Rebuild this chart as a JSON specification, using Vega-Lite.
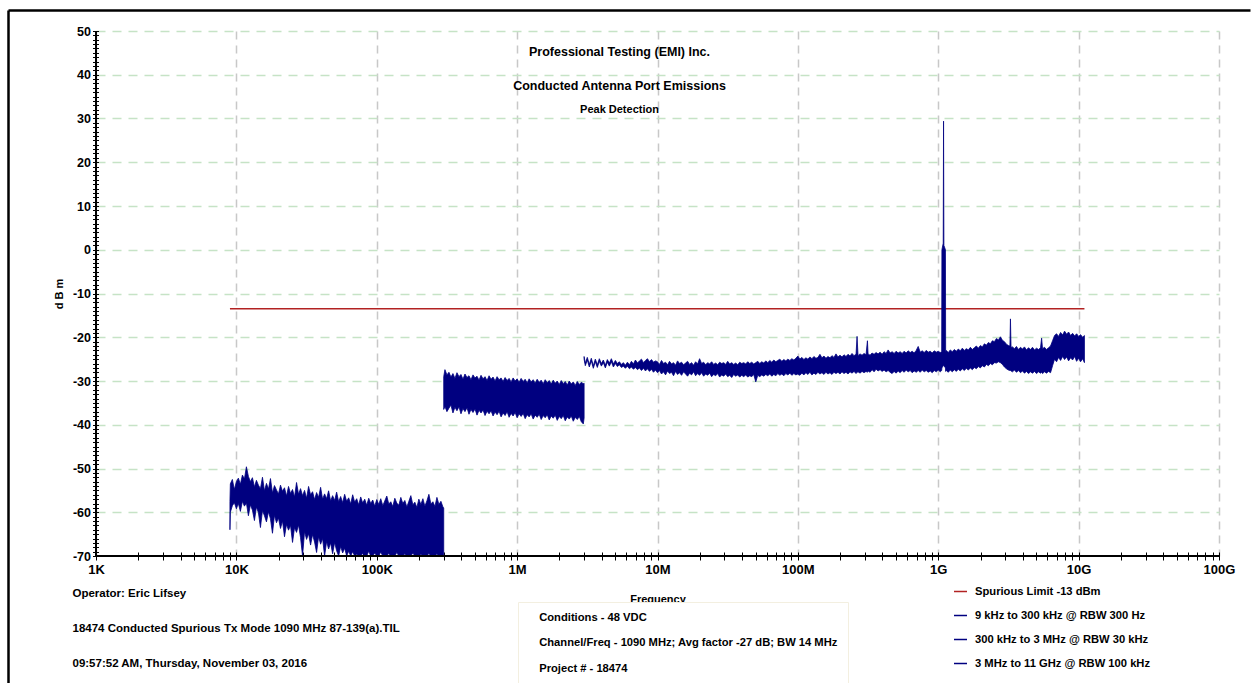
{
  "$schema": "https://vega.github.io/schema/vega-lite/v6.json",
  "width": 1123,
  "height": 525,
  "autosize": {"type": "none"},
  "padding": {"left": 96, "top": 31, "right": 36, "bottom": 127},
  "background": "white",
  "config": {
    "view": {"stroke": null},
    "font": "Liberation Sans, Arial, sans-serif"
  },
  "title": {
    "text": ["Professional Testing (EMI) Inc.", "Conducted Antenna Port Emissions"],
    "subtitle": "Peak Detection",
    "anchor": "middle",
    "frame": "group",
    "orient": "top",
    "offset": -105,
    "dx": -38,
    "fontSize": 12.5,
    "fontWeight": "bold",
    "lineHeight": 34,
    "color": "black",
    "subtitleFontSize": 11,
    "subtitleFontWeight": "bold",
    "subtitleColor": "black",
    "subtitlePadding": 12
  },
  "datasets": {
    "lim": [{"f": 9000, "v": -13.5}, {"f": 1.1e10, "v": -13.5}],
    "s1": [
      {"f":9000,"lo":-64,"hi":-57.5},{"f":9060,"lo":-60,"hi":-53.5},{"f":9363,"lo":-58.5,"hi":-52.5},{"f":9676,"lo":-57.8,"hi":-54.8},
      {"f":1e4,"lo":-59.2,"hi":-53},{"f":1.033e4,"lo":-58,"hi":-52.2},{"f":1.068e4,"lo":-59.8,"hi":-53.6},{"f":1.104e4,"lo":-57.5,"hi":-51.5},
      {"f":1.141e4,"lo":-58.6,"hi":-52.4},{"f":1.179e4,"lo":-57.9,"hi":-49.6},{"f":1.218e4,"lo":-60.8,"hi":-51.8},{"f":1.259e4,"lo":-58.3,"hi":-53},
      {"f":1.301e4,"lo":-59.5,"hi":-52.1},{"f":1.345e4,"lo":-61.9,"hi":-54.2},{"f":1.389e4,"lo":-58.8,"hi":-52.7},{"f":1.436e4,"lo":-60.1,"hi":-53.8},
      {"f":1.484e4,"lo":-63.5,"hi":-54.6},{"f":1.534e4,"lo":-59.6,"hi":-52},{"f":1.585e4,"lo":-60.8,"hi":-55.1},{"f":1.638e4,"lo":-62.2,"hi":-53.4},
      {"f":1.693e4,"lo":-59.9,"hi":-54.7},{"f":1.749e4,"lo":-61.5,"hi":-52.3},{"f":1.808e4,"lo":-64.8,"hi":-55.6},{"f":1.868e4,"lo":-60.7,"hi":-53.9},
      {"f":1.931e4,"lo":-62.4,"hi":-54.9},{"f":1.995e4,"lo":-61.3,"hi":-55.8},{"f":2.062e4,"lo":-63.7,"hi":-53.8},{"f":2.131e4,"lo":-62,"hi":-55.2},
      {"f":2.202e4,"lo":-65.6,"hi":-54.4},{"f":2.276e4,"lo":-62.8,"hi":-56.3},{"f":2.352e4,"lo":-64.1,"hi":-54.1},{"f":2.43e4,"lo":-63,"hi":-55.7},
      {"f":2.512e4,"lo":-66.9,"hi":-54.8},{"f":2.596e4,"lo":-63.5,"hi":-56.5},{"f":2.683e4,"lo":-64.6,"hi":-53.2},{"f":2.772e4,"lo":-62.9,"hi":-55.9},
      {"f":2.865e4,"lo":-65.8,"hi":-54.6},{"f":2.961e4,"lo":-70,"hi":-56.2},{"f":3.06e4,"lo":-64.4,"hi":-55},{"f":3.162e4,"lo":-66.2,"hi":-56.8},
      {"f":3.268e4,"lo":-64.9,"hi":-54.1},{"f":3.377e4,"lo":-67.5,"hi":-56},{"f":3.49e4,"lo":-65.1,"hi":-55.3},{"f":3.606e4,"lo":-66.8,"hi":-57.1},
      {"f":3.727e4,"lo":-69.2,"hi":-55.5},{"f":3.852e4,"lo":-65.6,"hi":-56.6},{"f":3.981e4,"lo":-67.3,"hi":-54.3},{"f":4.113e4,"lo":-66,"hi":-57},
      {"f":4.251e4,"lo":-70,"hi":-55.8},{"f":4.393e4,"lo":-66.7,"hi":-56.9},{"f":4.54e4,"lo":-68.4,"hi":-55.1},{"f":4.692e4,"lo":-67,"hi":-57.4},
      {"f":4.849e4,"lo":-69.5,"hi":-56.2},{"f":5.012e4,"lo":-66.9,"hi":-57.3},{"f":5.179e4,"lo":-68.8,"hi":-55.4},{"f":5.352e4,"lo":-70,"hi":-57.6},
      {"f":5.531e4,"lo":-67.8,"hi":-56.4},{"f":5.716e4,"lo":-69.3,"hi":-57.8},{"f":5.907e4,"lo":-68.2,"hi":-55.9},{"f":6.105e4,"lo":-70,"hi":-57.5},
      {"f":6.31e4,"lo":-68.9,"hi":-56.7},{"f":6.52e4,"lo":-70,"hi":-58.1},{"f":6.738e4,"lo":-69,"hi":-56},{"f":6.964e4,"lo":-70,"hi":-57.7},
      {"f":7.197e4,"lo":-69.6,"hi":-56.9},{"f":7.438e4,"lo":-70,"hi":-58.3},{"f":7.686e4,"lo":-70,"hi":-56.5},{"f":7.943e4,"lo":-69.4,"hi":-57.9},
      {"f":8.209e4,"lo":-70,"hi":-57},{"f":8.483e4,"lo":-70,"hi":-58.4},{"f":8.767e4,"lo":-68.9,"hi":-56.8},{"f":9.06e4,"lo":-70,"hi":-58},
      {"f":9.363e4,"lo":-70,"hi":-57.2},{"f":9.676e4,"lo":-69.3,"hi":-58.6},{"f":1e5,"lo":-70,"hi":-57.1},{"f":1.033e5,"lo":-70,"hi":-58.2},
      {"f":1.068e5,"lo":-69.1,"hi":-56.9},{"f":1.104e5,"lo":-70,"hi":-58.5},{"f":1.141e5,"lo":-70,"hi":-57.4},{"f":1.179e5,"lo":-70,"hi":-56.3},
      {"f":1.218e5,"lo":-69.4,"hi":-58.1},{"f":1.259e5,"lo":-70,"hi":-57.6},{"f":1.301e5,"lo":-70,"hi":-58.7},{"f":1.345e5,"lo":-70,"hi":-56.8},
      {"f":1.389e5,"lo":-69.2,"hi":-57.9},{"f":1.436e5,"lo":-70,"hi":-58.4},{"f":1.484e5,"lo":-70,"hi":-56.6},{"f":1.534e5,"lo":-70,"hi":-58},
      {"f":1.585e5,"lo":-69.5,"hi":-57.3},{"f":1.638e5,"lo":-70,"hi":-58.8},{"f":1.693e5,"lo":-70,"hi":-57.5},{"f":1.749e5,"lo":-70,"hi":-56.2},
      {"f":1.808e5,"lo":-69.3,"hi":-58.3},{"f":1.868e5,"lo":-70,"hi":-57.7},{"f":1.931e5,"lo":-70,"hi":-58.9},{"f":1.995e5,"lo":-70,"hi":-57},
      {"f":2.062e5,"lo":-69.6,"hi":-58.2},{"f":2.131e5,"lo":-70,"hi":-56.9},{"f":2.202e5,"lo":-70,"hi":-58.6},{"f":2.276e5,"lo":-70,"hi":-57.4},
      {"f":2.352e5,"lo":-69.4,"hi":-55.9},{"f":2.43e5,"lo":-70,"hi":-58.1},{"f":2.512e5,"lo":-70,"hi":-57.6},{"f":2.596e5,"lo":-70,"hi":-58.7},
      {"f":2.683e5,"lo":-69.5,"hi":-56.6},{"f":2.772e5,"lo":-70,"hi":-58.2},{"f":2.865e5,"lo":-70,"hi":-57.5},{"f":2.961e5,"lo":-70,"hi":-58.8},
      {"f":3e5,"lo":-70,"hi":-59}
    ],
    "s2": [
      {"f":3e5,"lo":-36.5,"hi":-29},{"f":3.06e5,"lo":-35.8,"hi":-27.4},{"f":3.162e5,"lo":-37,"hi":-28.6},{"f":3.268e5,"lo":-36.2,"hi":-28},
      {"f":3.377e5,"lo":-35.5,"hi":-29.1},{"f":3.49e5,"lo":-37.3,"hi":-28.3},{"f":3.606e5,"lo":-36,"hi":-29.4},{"f":3.727e5,"lo":-36.8,"hi":-28.1},
      {"f":3.852e5,"lo":-35.9,"hi":-29},{"f":3.981e5,"lo":-37.5,"hi":-28.5},{"f":4.113e5,"lo":-36.3,"hi":-29.6},{"f":4.251e5,"lo":-37,"hi":-28.4},
      {"f":4.393e5,"lo":-36.1,"hi":-29.2},{"f":4.54e5,"lo":-37.6,"hi":-28.8},{"f":4.692e5,"lo":-36.5,"hi":-29.7},{"f":4.849e5,"lo":-37.2,"hi":-28.6},
      {"f":5.012e5,"lo":-36.4,"hi":-29.3},{"f":5.179e5,"lo":-37.8,"hi":-28.9},{"f":5.352e5,"lo":-36.7,"hi":-29.8},{"f":5.531e5,"lo":-37.3,"hi":-28.7},
      {"f":5.716e5,"lo":-36.6,"hi":-29.5},{"f":5.907e5,"lo":-37.9,"hi":-29},{"f":6.105e5,"lo":-36.9,"hi":-29.9},{"f":6.31e5,"lo":-37.5,"hi":-28.8},
      {"f":6.52e5,"lo":-36.8,"hi":-29.6},{"f":6.738e5,"lo":-38,"hi":-29.1},{"f":6.964e5,"lo":-37.1,"hi":-30},{"f":7.197e5,"lo":-37.7,"hi":-29},
      {"f":7.438e5,"lo":-36.9,"hi":-29.7},{"f":7.686e5,"lo":-38.2,"hi":-29.3},{"f":7.943e5,"lo":-37.3,"hi":-30.1},{"f":8.209e5,"lo":-37.9,"hi":-29.2},
      {"f":8.483e5,"lo":-37,"hi":-29.9},{"f":8.767e5,"lo":-38.3,"hi":-29.4},{"f":9.06e5,"lo":-37.4,"hi":-30.2},{"f":9.363e5,"lo":-38,"hi":-29.3},
      {"f":9.676e5,"lo":-37.2,"hi":-30},{"f":1e6,"lo":-38.4,"hi":-29.5},{"f":1.033e6,"lo":-37.5,"hi":-30.3},{"f":1.068e6,"lo":-38.1,"hi":-29.4},
      {"f":1.104e6,"lo":-37.4,"hi":-30.1},{"f":1.141e6,"lo":-38.6,"hi":-29.6},{"f":1.179e6,"lo":-37.7,"hi":-30.4},{"f":1.218e6,"lo":-38.2,"hi":-29.5},
      {"f":1.259e6,"lo":-37.5,"hi":-30.2},{"f":1.301e6,"lo":-38.7,"hi":-29.7},{"f":1.345e6,"lo":-37.8,"hi":-30.5},{"f":1.389e6,"lo":-38.3,"hi":-29.6},
      {"f":1.436e6,"lo":-37.6,"hi":-30.3},{"f":1.484e6,"lo":-38.8,"hi":-29.8},{"f":1.534e6,"lo":-37.9,"hi":-30.6},{"f":1.585e6,"lo":-38.4,"hi":-29.7},
      {"f":1.638e6,"lo":-37.7,"hi":-30.4},{"f":1.693e6,"lo":-38.9,"hi":-29.9},{"f":1.749e6,"lo":-38,"hi":-30.7},{"f":1.808e6,"lo":-38.5,"hi":-29.8},
      {"f":1.868e6,"lo":-37.8,"hi":-30.5},{"f":1.931e6,"lo":-39,"hi":-30},{"f":1.995e6,"lo":-38.1,"hi":-30.8},{"f":2.062e6,"lo":-38.6,"hi":-29.9},
      {"f":2.131e6,"lo":-37.9,"hi":-30.6},{"f":2.202e6,"lo":-39.1,"hi":-30.1},{"f":2.276e6,"lo":-38.2,"hi":-30.9},{"f":2.352e6,"lo":-38.7,"hi":-30},
      {"f":2.43e6,"lo":-38,"hi":-30.7},{"f":2.512e6,"lo":-39.2,"hi":-30.2},{"f":2.596e6,"lo":-38.3,"hi":-31},{"f":2.683e6,"lo":-38.8,"hi":-30.1},
      {"f":2.772e6,"lo":-38.1,"hi":-30.8},{"f":2.865e6,"lo":-39.3,"hi":-30.3},{"f":2.961e6,"lo":-39.8,"hi":-30.6},{"f":3e6,"lo":-38.5,"hi":-30.5}
    ],
    "s3": [
      {"f":3e6,"lo":-25,"hi":-24.4},{"f":3.06e6,"lo":-26.5,"hi":-25.9},{"f":3.162e6,"lo":-25.2,"hi":-24.6},{"f":3.268e6,"lo":-26.8,"hi":-26.2},
      {"f":3.377e6,"lo":-25.4,"hi":-24.8},{"f":3.49e6,"lo":-27.1,"hi":-26.5},{"f":3.606e6,"lo":-25.6,"hi":-25},{"f":3.727e6,"lo":-26.9,"hi":-26.3},
      {"f":3.852e6,"lo":-25.5,"hi":-24.9},{"f":3.981e6,"lo":-26.6,"hi":-26},{"f":4.113e6,"lo":-25.8,"hi":-25.2},{"f":4.251e6,"lo":-27,"hi":-26.4},
      {"f":4.393e6,"lo":-25.7,"hi":-25.1},{"f":4.54e6,"lo":-26.6,"hi":-25.9},{"f":4.692e6,"lo":-25.6,"hi":-24.9},{"f":4.849e6,"lo":-26.8,"hi":-26.1},
      {"f":5.012e6,"lo":-26,"hi":-25.3},{"f":5.179e6,"lo":-26.7,"hi":-26},{"f":5.352e6,"lo":-26.3,"hi":-25.6},{"f":5.531e6,"lo":-26.9,"hi":-26.2},
      {"f":5.716e6,"lo":-26.6,"hi":-25.8},{"f":5.907e6,"lo":-27.1,"hi":-26.4},{"f":6.105e6,"lo":-26.6,"hi":-25.7},{"f":6.31e6,"lo":-27.2,"hi":-26.3},
      {"f":6.52e6,"lo":-26.8,"hi":-25.5},{"f":6.738e6,"lo":-27.3,"hi":-26.1},{"f":6.964e6,"lo":-26.9,"hi":-25.2},{"f":7.197e6,"lo":-27.4,"hi":-25.9},
      {"f":7.438e6,"lo":-27,"hi":-25.4},{"f":7.686e6,"lo":-27.6,"hi":-25},{"f":7.943e6,"lo":-27.1,"hi":-25.8},{"f":8.209e6,"lo":-27.7,"hi":-25.3},
      {"f":8.483e6,"lo":-27.2,"hi":-24.9},{"f":8.767e6,"lo":-27.8,"hi":-25.6},{"f":9.06e6,"lo":-27.3,"hi":-25.1},{"f":9.363e6,"lo":-28,"hi":-25.7},
      {"f":9.676e6,"lo":-27.5,"hi":-25.4},
      {"f":1e7,"lo":-28.1,"hi":-25.6},{"f":1.033e7,"lo":-27.6,"hi":-26.2},{"f":1.068e7,"lo":-28.4,"hi":-25.3},{"f":1.104e7,"lo":-27.9,"hi":-26},
      {"f":1.141e7,"lo":-28.6,"hi":-25.7},{"f":1.179e7,"lo":-27.7,"hi":-26.3},{"f":1.218e7,"lo":-28.3,"hi":-25.5},{"f":1.259e7,"lo":-28,"hi":-26.1},
      {"f":1.301e7,"lo":-28.8,"hi":-25.8},{"f":1.345e7,"lo":-27.8,"hi":-26.4},{"f":1.389e7,"lo":-28.5,"hi":-25.4},{"f":1.436e7,"lo":-28.1,"hi":-26},
      {"f":1.484e7,"lo":-28.7,"hi":-25.7},{"f":1.534e7,"lo":-27.9,"hi":-26.3},{"f":1.585e7,"lo":-28.4,"hi":-25.9},{"f":1.638e7,"lo":-28.9,"hi":-25.5},
      {"f":1.693e7,"lo":-28.2,"hi":-26.2},{"f":1.749e7,"lo":-28.6,"hi":-25.8},{"f":1.808e7,"lo":-27.9,"hi":-26.4},{"f":1.868e7,"lo":-28.8,"hi":-25.6},
      {"f":1.931e7,"lo":-28.3,"hi":-26.1},{"f":1.995e7,"lo":-28.7,"hi":-24.9},{"f":2.062e7,"lo":-28.1,"hi":-26},{"f":2.131e7,"lo":-28.9,"hi":-25.7},
      {"f":2.202e7,"lo":-28.4,"hi":-26.3},{"f":2.276e7,"lo":-28.7,"hi":-25.8},{"f":2.352e7,"lo":-28.2,"hi":-26.1},{"f":2.43e7,"lo":-29,"hi":-25.6},
      {"f":2.512e7,"lo":-28.5,"hi":-26.2},{"f":2.596e7,"lo":-28.8,"hi":-25.9},{"f":2.683e7,"lo":-28.3,"hi":-26.3},{"f":2.772e7,"lo":-29.1,"hi":-25.7},
      {"f":2.865e7,"lo":-28.6,"hi":-26},{"f":2.961e7,"lo":-28.9,"hi":-25.8},{"f":3.06e7,"lo":-28.4,"hi":-26.2},{"f":3.162e7,"lo":-29,"hi":-25.5},
      {"f":3.268e7,"lo":-28.7,"hi":-26.1},{"f":3.377e7,"lo":-29.2,"hi":-25.8},{"f":3.49e7,"lo":-28.5,"hi":-26.2},{"f":3.606e7,"lo":-28.9,"hi":-25.9},
      {"f":3.727e7,"lo":-28.6,"hi":-26.3},{"f":3.852e7,"lo":-29.1,"hi":-25.7},{"f":3.981e7,"lo":-28.7,"hi":-26},{"f":4.113e7,"lo":-29,"hi":-25.8},
      {"f":4.251e7,"lo":-28.6,"hi":-26.1},{"f":4.393e7,"lo":-29.1,"hi":-25.6},{"f":4.54e7,"lo":-28.8,"hi":-26},{"f":4.692e7,"lo":-29,"hi":-25.7},
      {"f":4.849e7,"lo":-28.5,"hi":-26.1},{"f":5.012e7,"lo":-30.2,"hi":-25.8},{"f":5.179e7,"lo":-28.7,"hi":-25.5},{"f":5.352e7,"lo":-29,"hi":-26},
      {"f":5.531e7,"lo":-28.6,"hi":-25.6},{"f":5.716e7,"lo":-28.9,"hi":-25.9},{"f":5.907e7,"lo":-28.5,"hi":-25.4},{"f":6.105e7,"lo":-28.8,"hi":-25.8},
      {"f":6.31e7,"lo":-28.4,"hi":-25.3},{"f":6.52e7,"lo":-28.9,"hi":-25.7},{"f":6.738e7,"lo":-28.5,"hi":-25.2},{"f":6.964e7,"lo":-28.8,"hi":-25.6},
      {"f":7.197e7,"lo":-28.3,"hi":-25.3},{"f":7.438e7,"lo":-28.7,"hi":-25},{"f":7.686e7,"lo":-28.4,"hi":-25.5},{"f":7.943e7,"lo":-28.8,"hi":-25.1},
      {"f":8.209e7,"lo":-28.3,"hi":-25.4},{"f":8.483e7,"lo":-28.6,"hi":-25},{"f":8.767e7,"lo":-28.2,"hi":-25.3},{"f":9.06e7,"lo":-28.7,"hi":-24.9},
      {"f":9.363e7,"lo":-28.3,"hi":-25.2},{"f":9.676e7,"lo":-28.6,"hi":-24.8},
      {"f":1e8,"lo":-28.4,"hi":-24.3},{"f":1.033e8,"lo":-28.7,"hi":-25},{"f":1.068e8,"lo":-28.2,"hi":-24.6},{"f":1.104e8,"lo":-28.6,"hi":-25.1},
      {"f":1.141e8,"lo":-28.1,"hi":-24.7},{"f":1.179e8,"lo":-28.5,"hi":-25},{"f":1.218e8,"lo":-28,"hi":-24.5},{"f":1.259e8,"lo":-28.6,"hi":-24.9},
      {"f":1.301e8,"lo":-28.2,"hi":-24.4},{"f":1.345e8,"lo":-28.5,"hi":-24.8},{"f":1.389e8,"lo":-28,"hi":-24.6},{"f":1.436e8,"lo":-28.4,"hi":-23.9},
      {"f":1.484e8,"lo":-28.1,"hi":-24.7},{"f":1.534e8,"lo":-28.5,"hi":-24.3},{"f":1.585e8,"lo":-28,"hi":-24.8},{"f":1.638e8,"lo":-28.4,"hi":-24.4},
      {"f":1.693e8,"lo":-28.1,"hi":-24.7},{"f":1.749e8,"lo":-28.5,"hi":-24.2},{"f":1.808e8,"lo":-28,"hi":-24.6},{"f":1.868e8,"lo":-28.3,"hi":-23.8},
      {"f":1.931e8,"lo":-28,"hi":-24.5},{"f":1.995e8,"lo":-28.4,"hi":-24.1},{"f":2.062e8,"lo":-27.9,"hi":-24.5},{"f":2.131e8,"lo":-28.3,"hi":-24},
      {"f":2.202e8,"lo":-28,"hi":-24.4},{"f":2.276e8,"lo":-28.4,"hi":-23.9},{"f":2.352e8,"lo":-27.9,"hi":-24.3},{"f":2.43e8,"lo":-28.2,"hi":-23.7},
      {"f":2.512e8,"lo":-27.8,"hi":-24.2},{"f":2.596e8,"lo":-28.3,"hi":-23.9},{"f":2.64e8,"lo":-28,"hi":-19.8},{"f":2.683e8,"lo":-27.9,"hi":-24.2},
      {"f":2.772e8,"lo":-28.2,"hi":-23.8},{"f":2.865e8,"lo":-27.8,"hi":-24.1},{"f":2.961e8,"lo":-28.1,"hi":-23.7},{"f":3.06e8,"lo":-27.8,"hi":-24},
      {"f":3.13e8,"lo":-28,"hi":-20.8},{"f":3.162e8,"lo":-27.7,"hi":-23.8},{"f":3.268e8,"lo":-28,"hi":-24.1},{"f":3.377e8,"lo":-27.4,"hi":-23.6},
      {"f":3.49e8,"lo":-27.9,"hi":-23.9},{"f":3.606e8,"lo":-27.3,"hi":-23.5},{"f":3.727e8,"lo":-27.7,"hi":-23.8},{"f":3.852e8,"lo":-27.4,"hi":-23.4},
      {"f":3.981e8,"lo":-27.8,"hi":-23.9},{"f":4.113e8,"lo":-27.5,"hi":-23.3},{"f":4.251e8,"lo":-27.9,"hi":-23.7},{"f":4.393e8,"lo":-27.6,"hi":-22.9},
      {"f":4.54e8,"lo":-28,"hi":-23.6},{"f":4.692e8,"lo":-28.3,"hi":-23.3},{"f":4.849e8,"lo":-27.8,"hi":-23.7},{"f":5.012e8,"lo":-28.2,"hi":-23.2},
      {"f":5.179e8,"lo":-27.7,"hi":-23.6},{"f":5.352e8,"lo":-28.1,"hi":-23.3},{"f":5.531e8,"lo":-27.6,"hi":-23.7},{"f":5.716e8,"lo":-28,"hi":-23.2},
      {"f":5.907e8,"lo":-27.5,"hi":-23.6},{"f":6.105e8,"lo":-27.9,"hi":-23.1},{"f":6.31e8,"lo":-27.6,"hi":-23.5},{"f":6.52e8,"lo":-28.1,"hi":-23.2},
      {"f":6.738e8,"lo":-27.7,"hi":-23.6},{"f":6.964e8,"lo":-28,"hi":-23},{"f":7.197e8,"lo":-27.6,"hi":-22.1},{"f":7.438e8,"lo":-28,"hi":-23.4},
      {"f":7.686e8,"lo":-27.5,"hi":-23.1},{"f":7.943e8,"lo":-27.9,"hi":-23.5},{"f":8.209e8,"lo":-27.6,"hi":-23},{"f":8.483e8,"lo":-28,"hi":-23.4},
      {"f":8.767e8,"lo":-27.7,"hi":-23.2},{"f":9.06e8,"lo":-28.1,"hi":-23.6},{"f":9.363e8,"lo":-27.6,"hi":-23.1},{"f":9.676e8,"lo":-27.9,"hi":-23.4},
      {"f":1e9,"lo":-27.5,"hi":-23.2},{"f":1.033e9,"lo":-27.9,"hi":-23.5},{"f":1.058e9,"lo":-27.6,"hi":-23.3},{"f":1.062e9,"lo":-27,"hi":0},
      {"f":1.085e9,"lo":-26.5,"hi":1.5},{"f":1.091e9,"lo":-26.5,"hi":29.4},{"f":1.097e9,"lo":-26.5,"hi":1},{"f":1.125e9,"lo":-27,"hi":0},
      {"f":1.129e9,"lo":-27.8,"hi":-23.4},{"f":1.141e9,"lo":-27.6,"hi":-23},{"f":1.179e9,"lo":-28,"hi":-23.5},{"f":1.218e9,"lo":-27.5,"hi":-22.9},
      {"f":1.259e9,"lo":-27.9,"hi":-23.3},{"f":1.301e9,"lo":-27.4,"hi":-22.8},{"f":1.345e9,"lo":-27.8,"hi":-23.2},{"f":1.389e9,"lo":-27.3,"hi":-22.7},
      {"f":1.436e9,"lo":-27.7,"hi":-23.1},{"f":1.484e9,"lo":-27.2,"hi":-22.5},{"f":1.534e9,"lo":-27.6,"hi":-23},{"f":1.585e9,"lo":-27.1,"hi":-22.6},
      {"f":1.638e9,"lo":-27.5,"hi":-22.9},{"f":1.693e9,"lo":-27,"hi":-22.3},{"f":1.749e9,"lo":-27.4,"hi":-22.8},{"f":1.808e9,"lo":-26.9,"hi":-22.4},
      {"f":1.868e9,"lo":-27.2,"hi":-22},{"f":1.931e9,"lo":-26.7,"hi":-22.5},{"f":1.995e9,"lo":-27,"hi":-21.9},{"f":2.062e9,"lo":-26.5,"hi":-22.2},
      {"f":2.131e9,"lo":-26.8,"hi":-21.5},{"f":2.202e9,"lo":-26.2,"hi":-21.8},{"f":2.276e9,"lo":-26.5,"hi":-21.2},{"f":2.352e9,"lo":-26,"hi":-21.5},
      {"f":2.43e9,"lo":-26.3,"hi":-20.8},{"f":2.512e9,"lo":-25.8,"hi":-21},{"f":2.596e9,"lo":-25.9,"hi":-20.3},{"f":2.683e9,"lo":-25.6,"hi":-20.6},
      {"f":2.772e9,"lo":-25.8,"hi":-19.9},{"f":2.865e9,"lo":-26.2,"hi":-20.7},{"f":2.961e9,"lo":-26.8,"hi":-21},{"f":3.06e9,"lo":-27.2,"hi":-21.6},
      {"f":3.162e9,"lo":-27.5,"hi":-21.9},{"f":3.24e9,"lo":-27.6,"hi":-22},{"f":3.268e9,"lo":-27.6,"hi":-15.8},{"f":3.3e9,"lo":-27.7,"hi":-22.3},
      {"f":3.377e9,"lo":-27.9,"hi":-22.2},{"f":3.49e9,"lo":-27.5,"hi":-22.6},{"f":3.606e9,"lo":-28,"hi":-22.1},{"f":3.727e9,"lo":-27.6,"hi":-22.8},
      {"f":3.852e9,"lo":-28.1,"hi":-22.3},{"f":3.981e9,"lo":-27.7,"hi":-22.7},{"f":4.113e9,"lo":-28.2,"hi":-22.2},{"f":4.251e9,"lo":-27.8,"hi":-22.9},
      {"f":4.393e9,"lo":-28.3,"hi":-22.4},{"f":4.54e9,"lo":-27.9,"hi":-22.8},{"f":4.692e9,"lo":-28.2,"hi":-22.3},{"f":4.849e9,"lo":-27.8,"hi":-22.9},
      {"f":5.012e9,"lo":-28.3,"hi":-22.5},{"f":5.179e9,"lo":-27.9,"hi":-22.8},{"f":5.352e9,"lo":-28.2,"hi":-22.4},{"f":5.45e9,"lo":-28,"hi":-20.2},
      {"f":5.531e9,"lo":-28.3,"hi":-22.6},{"f":5.716e9,"lo":-27.9,"hi":-22.3},{"f":5.907e9,"lo":-28.2,"hi":-22.8},{"f":6.105e9,"lo":-27.8,"hi":-22.4},
      {"f":6.31e9,"lo":-28.1,"hi":-22},{"f":6.52e9,"lo":-26.5,"hi":-20.8},{"f":6.738e9,"lo":-25,"hi":-19.6},{"f":6.964e9,"lo":-25.6,"hi":-19.2},
      {"f":7.197e9,"lo":-24.6,"hi":-19.8},{"f":7.438e9,"lo":-25.3,"hi":-18.9},{"f":7.686e9,"lo":-24.4,"hi":-19.5},{"f":7.943e9,"lo":-25.1,"hi":-18.6},
      {"f":8.209e9,"lo":-24.5,"hi":-19.3},{"f":8.483e9,"lo":-25.4,"hi":-18.8},{"f":8.767e9,"lo":-24.7,"hi":-19.6},{"f":9.06e9,"lo":-25.2,"hi":-19.1},
      {"f":9.363e9,"lo":-24.4,"hi":-19.7},{"f":9.676e9,"lo":-25.5,"hi":-19.2},{"f":1e10,"lo":-24.8,"hi":-19.8},{"f":1.033e10,"lo":-25.6,"hi":-19.4},
      {"f":1.068e10,"lo":-24.9,"hi":-20},{"f":1.1e10,"lo":-25.8,"hi":-19.6}
    ],
    "cond": [
      {"note": "Conditions - 48 VDC"},
      {"note": "Channel/Freq - 1090 MHz; Avg factor -27 dB; BW 14 MHz"},
      {"note": "Project # - 18474"}
    ],
    "foot": [
      {"line": "Operator: Eric Lifsey"},
      {"line": "18474 Conducted Spurious Tx Mode 1090 MHz 87-139(a).TIL"},
      {"line": "09:57:52 AM, Thursday, November 03, 2016"}
    ]
  },
  "layer": [
    {
      "layer": [
        {
          "data": {"name": "lim"},
          "mark": {"type": "line", "strokeWidth": 1.5},
          "encoding": {
            "x": {
              "field": "f", "type": "quantitative", "title": "Frequency",
              "scale": {"type": "log", "domain": [1000, 100000000000], "nice": false},
              "axis": {
                "orient": "bottom",
                "values": [1e3,2e3,3e3,4e3,5e3,6e3,7e3,8e3,9e3,1e4,2e4,3e4,4e4,5e4,6e4,7e4,8e4,9e4,1e5,2e5,3e5,4e5,5e5,6e5,7e5,8e5,9e5,1e6,2e6,3e6,4e6,5e6,6e6,7e6,8e6,9e6,1e7,2e7,3e7,4e7,5e7,6e7,7e7,8e7,9e7,1e8,2e8,3e8,4e8,5e8,6e8,7e8,8e8,9e8,1e9,2e9,3e9,4e9,5e9,6e9,7e9,8e9,9e9,1e10,2e10,3e10,4e10,5e10,6e10,7e10,8e10,9e10,1e11],
                "tickCount": 500,
                "labelExpr": "datum.value==1e3?'1K':datum.value==1e4?'10K':datum.value==1e5?'100K':datum.value==1e6?'1M':datum.value==1e7?'10M':datum.value==1e8?'100M':datum.value==1e9?'1G':datum.value==1e10?'10G':datum.value==1e11?'100G':''",
                "labelFontSize": 13, "labelFontWeight": "bold", "labelColor": "black",
                "labelPadding": 3, "labelFlush": false, "labelOverlap": false,
                "domain": false, "ticks": true, "tickColor": "black", "tickSize": 8, "tickWidth": 1,
                "offset": -4,
                "grid": true, "gridColor": "#c8c8c8", "gridDash": [8, 6], "gridWidth": 1.5,
                "gridOpacity": {"condition": {"test": "abs(log(datum.value)/LN10 - round(log(datum.value)/LN10)) < 0.0001", "value": 1}, "value": 0},
                "title": "Frequency", "titleFontSize": 11, "titleFontWeight": "bold", "titleColor": "black", "titlePadding": 17
              }
            },
            "y": {
              "field": "v", "type": "quantitative", "title": "d B m",
              "scale": {"domain": [-70, 50], "nice": false, "zero": false},
              "axis": {
                "orient": "left",
                "values": [-70,-69,-68,-67,-66,-65,-64,-63,-62,-61,-60,-59,-58,-57,-56,-55,-54,-53,-52,-51,-50,-49,-48,-47,-46,-45,-44,-43,-42,-41,-40,-39,-38,-37,-36,-35,-34,-33,-32,-31,-30,-29,-28,-27,-26,-25,-24,-23,-22,-21,-20,-19,-18,-17,-16,-15,-14,-13,-12,-11,-10,-9,-8,-7,-6,-5,-4,-3,-2,-1,0,1,2,3,4,5,6,7,8,9,10,11,12,13,14,15,16,17,18,19,20,21,22,23,24,25,26,27,28,29,30,31,32,33,34,35,36,37,38,39,40,41,42,43,44,45,46,47,48,49,50],
                "tickCount": 500,
                "labelExpr": "datum.value % 10 == 0 ? '' + datum.value : ''",
                "labelFontSize": 12.5, "labelFontWeight": "bold", "labelColor": "black",
                "labelPadding": 2, "labelOverlap": false, "labelFlush": false,
                "domain": false, "ticks": true, "tickColor": "black", "tickSize": 6, "tickWidth": 1,
                "offset": -2.5,
                "grid": true, "gridColor": "#c6e3c6", "gridDash": [9, 7], "gridWidth": 1.5,
                "gridOpacity": {"condition": {"test": "datum.value % 10 == 0 && datum.value > -70", "value": 1}, "value": 0},
                "title": "d B m", "titleFontSize": 11, "titleFontWeight": "bold", "titleColor": "black", "titlePadding": 8
              }
            },
            "color": {
              "datum": "Spurious Limit -13 dBm", "type": "nominal",
              "scale": {
                "domain": ["Spurious Limit -13 dBm", "9 kHz to 300 kHz @ RBW 300 Hz", "300 kHz to 3 MHz @ RBW 30 kHz", "3 MHz to 11 GHz @ RBW 100 kHz"],
                "range": ["#b22222", "#000080", "#000080", "#000080"]
              },
              "legend": {
                "orient": "none", "legendX": 857, "legendY": 553, "title": null,
                "symbolType": "stroke", "symbolSize": 169, "symbolStrokeWidth": 1.5,
                "labelOffset": 7, "labelFontSize": 11.2, "labelFontWeight": "bold", "labelColor": "black",
                "labelLimit": 400, "rowPadding": 11, "padding": 0, "zindex": 1,
                "encode": {"symbols": {"update": {"stroke": {"scale": "color", "field": "value"}, "fill": {"value": "transparent"}}}}
              }
            }
          }
        },
        {
          "data": {"name": "s1"},
          "mark": {"type": "area", "stroke": "#000080", "strokeWidth": 0.8},
          "encoding": {
            "x": {"field": "f", "type": "quantitative", "title": "Frequency"},
            "y": {"field": "lo", "type": "quantitative", "title": "d B m"},
            "y2": {"field": "hi"},
            "color": {"datum": "9 kHz to 300 kHz @ RBW 300 Hz", "type": "nominal"}
          }
        },
        {
          "data": {"name": "s2"},
          "mark": {"type": "area", "stroke": "#000080", "strokeWidth": 0.8},
          "encoding": {
            "x": {"field": "f", "type": "quantitative", "title": "Frequency"},
            "y": {"field": "lo", "type": "quantitative", "title": "d B m"},
            "y2": {"field": "hi"},
            "color": {"datum": "300 kHz to 3 MHz @ RBW 30 kHz", "type": "nominal"}
          }
        },
        {
          "data": {"name": "s3"},
          "mark": {"type": "area", "stroke": "#000080", "strokeWidth": 0.8},
          "encoding": {
            "x": {"field": "f", "type": "quantitative", "title": "Frequency"},
            "y": {"field": "lo", "type": "quantitative", "title": "d B m"},
            "y2": {"field": "hi"},
            "color": {"datum": "3 MHz to 11 GHz @ RBW 100 kHz", "type": "nominal"}
          }
        },
        {
          "data": {"values": [{}]},
          "mark": {"type": "rule", "color": "black", "strokeWidth": 2},
          "encoding": {"y": {"datum": -70, "type": "quantitative", "title": "d B m"}}
        },
        {
          "data": {"values": [{}]},
          "mark": {"type": "rule", "color": "black", "strokeWidth": 2},
          "encoding": {"x": {"datum": 1000, "type": "quantitative", "title": "Frequency"}}
        },
        {
          "data": {"name": "cond"},
          "mark": {"type": "point", "opacity": 0},
          "encoding": {
            "shape": {
              "field": "note", "type": "nominal",
              "scale": {"domain": ["Conditions - 48 VDC", "Channel/Freq - 1090 MHz; Avg factor -27 dB; BW 14 MHz", "Project # - 18474"], "range": ["circle", "circle", "circle"]},
              "legend": {
                "orient": "none", "legendX": 422, "legendY": 571, "title": null,
                "symbolSize": 0, "symbolOpacity": 0, "labelOffset": 0,
                "labelFontSize": 11.2, "labelFontWeight": "bold", "labelColor": "black", "labelLimit": 500,
                "rowPadding": 13.8, "padding": 10, "fillColor": "white", "strokeColor": "#f3efe0", "zindex": 1
              }
            }
          }
        },
        {
          "data": {"name": "foot"},
          "mark": {"type": "point", "opacity": 0},
          "encoding": {
            "strokeDash": {
              "field": "line", "type": "nominal",
              "scale": {"domain": ["Operator: Eric Lifsey", "18474 Conducted Spurious Tx Mode 1090 MHz 87-139(a).TIL", "09:57:52 AM, Thursday, November 03, 2016"], "range": [[1, 0], [1, 0], [1, 0]]},
              "legend": {
                "orient": "none", "legendX": -35, "legendY": 557, "title": null,
                "symbolSize": 0, "symbolOpacity": 0, "labelOffset": 0,
                "labelFontSize": 11.5, "labelFontWeight": "bold", "labelColor": "black", "labelLimit": 500,
                "rowPadding": 22, "padding": 0, "zindex": 1
              }
            }
          }
        }
      ]
    },
    {
      "data": {"values": [{}]},
      "mark": {"type": "point", "opacity": 0},
      "encoding": {
        "x": {
          "datum": 0, "type": "quantitative",
          "scale": {"domain": [0, 1], "range": [-88, 1154], "nice": false, "zero": false},
          "axis": {"orient": "top", "offset": 21, "domain": true, "domainColor": "black", "domainWidth": 2.5, "ticks": false, "labels": false, "grid": false, "title": null}
        },
        "y": {
          "datum": 0, "type": "quantitative",
          "scale": {"domain": [0, 1], "range": [652, -21], "nice": false, "zero": false},
          "axis": {"orient": "left", "offset": 88, "domain": true, "domainColor": "black", "domainWidth": 2.5, "ticks": false, "labels": false, "grid": false, "title": null}
        }
      }
    }
  ],
  "resolve": {"scale": {"x": "independent", "y": "independent"}}
}
